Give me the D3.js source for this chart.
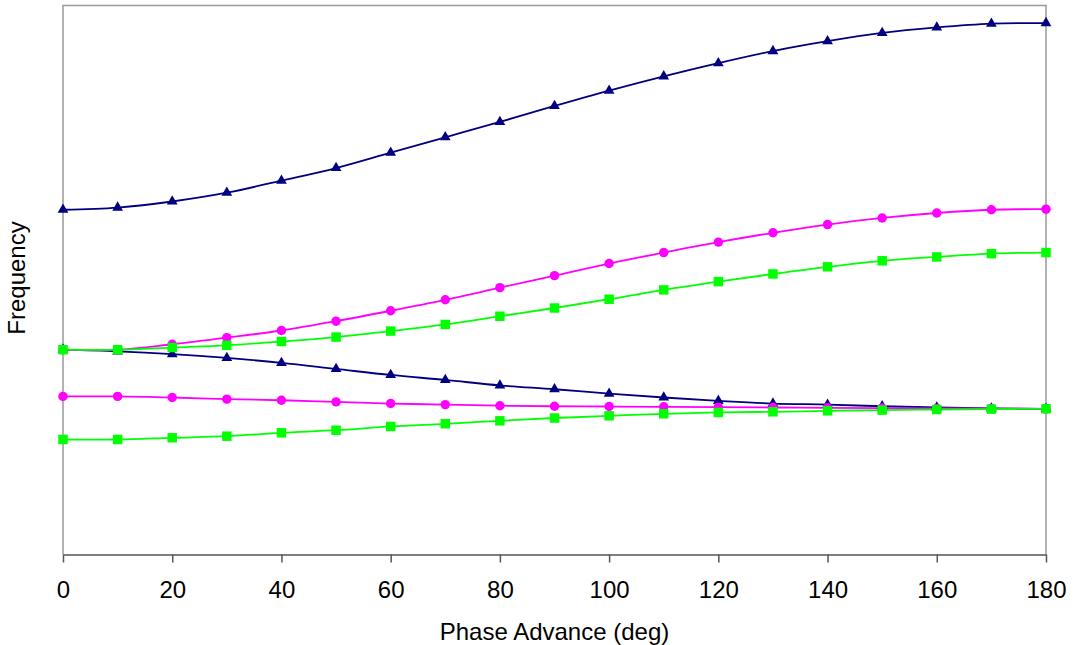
<!DOCTYPE html>
<html>
<head>
<meta charset="utf-8">
<script src="https://cdn.jsdelivr.net/npm/d3@7"></script>
<style>
  body { margin: 0; background: #fff; }
  text { font-family: Arial, "Liberation Sans", sans-serif; }
</style>
</head>
<body>
<svg id="chart" width="1074" height="645"></svg>
<script>
// phase advance in degrees
const phase = [0, 10, 20, 30, 40, 50, 60, 70, 80, 90, 100, 110, 120, 130, 140, 150, 160, 170, 180]
const xTicks = [0, 20, 40, 60, 80, 100, 120, 140, 160, 180]

// frequencies (arbitrary units)
const navyHigh = [0.628, 0.632, 0.643, 0.659, 0.681, 0.704, 0.732, 0.760, 0.788, 0.817, 0.845, 0.871, 0.895, 0.917, 0.935, 0.950, 0.960, 0.967, 0.968]
const pinkHigh = [0.373, 0.373, 0.383, 0.395, 0.408, 0.425, 0.444, 0.464, 0.486, 0.508, 0.530, 0.550, 0.569, 0.586, 0.601, 0.613, 0.622, 0.628, 0.629]
const greenHigh = [0.373, 0.373, 0.377, 0.381, 0.388, 0.396, 0.407, 0.419, 0.434, 0.449, 0.465, 0.482, 0.497, 0.511, 0.524, 0.535, 0.542, 0.548, 0.550]
const navyLow = [0.373, 0.370, 0.365, 0.358, 0.349, 0.338, 0.327, 0.318, 0.308, 0.301, 0.293, 0.286, 0.280, 0.275, 0.273, 0.270, 0.268, 0.266, 0.265]
const pinkLow = [0.288, 0.288, 0.286, 0.283, 0.281, 0.278, 0.275, 0.273, 0.271, 0.270, 0.2696, 0.269, 0.2683, 0.2678, 0.2672, 0.2667, 0.2661, 0.2658, 0.2654]
const greenLow = [0.2095, 0.2095, 0.2126, 0.2155, 0.2217, 0.2264, 0.2332, 0.2381, 0.2435, 0.2486, 0.2526, 0.2563, 0.2587, 0.2599, 0.2617, 0.2630, 0.2641, 0.2648, 0.2654]

// drawn in this order: navy below pink below green
const series = [
  {values: navyHigh, color: "#000080", symbol: d3.symbolTriangle, size: 50},
  {values: navyLow, color: "#000080", symbol: d3.symbolTriangle, size: 50},
  {values: pinkHigh, color: "#ff00ff", symbol: d3.symbolCircle, size: 70},
  {values: pinkLow, color: "#ff00ff", symbol: d3.symbolCircle, size: 70},
  {values: greenHigh, color: "#00ff00", symbol: d3.symbolSquare, size: 90},
  {values: greenLow, color: "#00ff00", symbol: d3.symbolSquare, size: 90}
]

const L = 63, R = 1046, T = 5.5, B = 554.5
const svg = d3.select("#chart")

const x = d3.scaleLinear().domain([0, 180]).range([L, R])
const y = d3.scaleLinear().domain([0, 1]).range([B, T])

// plot frame (left, top, right)
svg.append("path")
  .attr("d", `M${L},${B} V${T} H${R} V${B}`)
  .attr("fill", "none")
  .attr("stroke", "#999")
  .attr("stroke-width", 1.5)

const line = d3.line()
  .x((d, i) => x(phase[i]))
  .y(d => y(d))
  .curve(d3.curveCatmullRom.alpha(0.5))

series.forEach(s => {
  svg.append("path")
    .attr("d", line(s.values))
    .attr("fill", "none")
    .attr("stroke", s.color)
    .attr("stroke-width", 1.8)
})

series.forEach(s => {
  svg.append("g").selectAll("path")
    .data(s.values)
    .join("path")
    .attr("transform", (d, i) => `translate(${x(phase[i])},${y(d)})`)
    .attr("d", d3.symbol(s.symbol, s.size))
    .attr("fill", s.color)
})

// x axis
const ax = svg.append("g")
  .attr("transform", `translate(0,${B})`)
  .call(d3.axisBottom(x).tickValues(xTicks).tickSize(8).tickSizeOuter(0).tickPadding(18))
ax.select(".domain").attr("stroke", "#555").attr("stroke-width", 1.5)
ax.selectAll(".tick line").attr("stroke", "#555").attr("stroke-width", 1.5)
ax.selectAll(".tick text")
  .attr("font-size", 24)
  .attr("font-family", "Arial, 'Liberation Sans', sans-serif")
  .attr("fill", "#000")

svg.append("text")
  .attr("x", (L + R) / 2)
  .attr("y", 640)
  .attr("text-anchor", "middle")
  .attr("font-size", 24)
  .text("Phase Advance (deg)")

svg.append("text")
  .attr("transform", `translate(25,${(T + B) / 2 - 2}) rotate(-90)`)
  .attr("text-anchor", "middle")
  .attr("font-size", 24)
  .text("Frequency")
</script>
</body>
</html>
